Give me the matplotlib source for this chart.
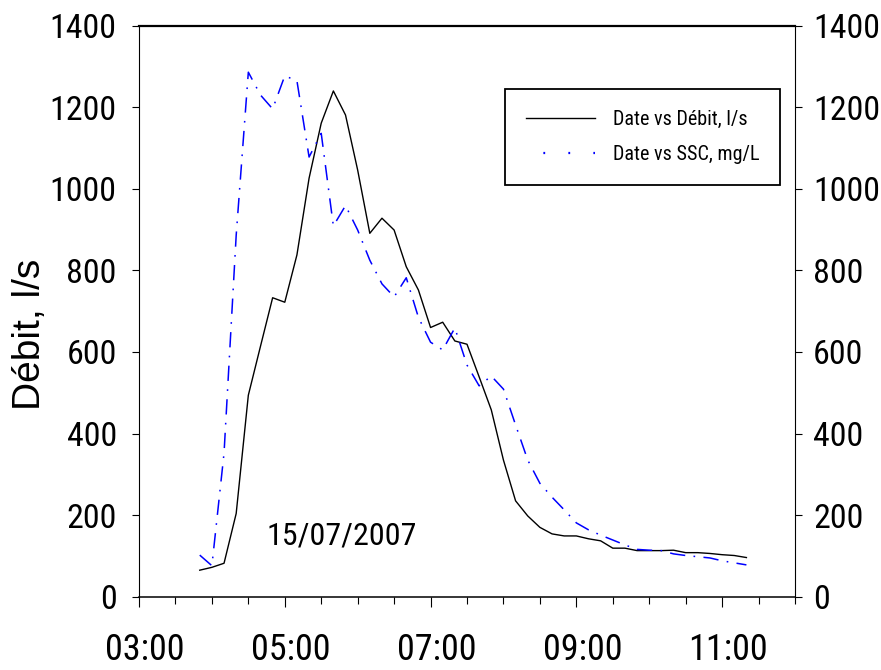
import matplotlib
matplotlib.use("Agg")
import matplotlib.pyplot as plt
from matplotlib.lines import Line2D
from matplotlib.transforms import ScaledTranslation

plt.rcParams['lines.scale_dashes'] = False
NARROW = ['Roboto Condensed', 'Archivo Narrow', 'Liberation Sans', 'DejaVu Sans']
plt.rcParams['font.family'] = NARROW

# ---------------- data ----------------
times = ["03:50", "04:00", "04:10", "04:20", "04:30", "04:40", "04:50", "05:00",
         "05:10", "05:20", "05:30", "05:40", "05:50", "06:00", "06:10", "06:20",
         "06:30", "06:40", "06:50", "07:00", "07:10", "07:20", "07:30", "07:40",
         "07:50", "08:00", "08:10", "08:20", "08:30", "08:40", "08:50", "09:00",
         "09:10", "09:20", "09:30", "09:40", "09:50", "10:00", "10:10", "10:20",
         "10:30", "10:40", "10:50", "11:00", "11:10", "11:20"]

debit = [65, 72, 82, 204, 494, 614, 733, 722,
         838, 1026, 1161, 1240, 1181, 1046, 891, 928,
         899, 809, 752, 660, 673, 627, 619, 539,
         458, 335, 235, 198, 170, 154, 149, 149,
         142, 137, 119, 119, 113, 113, 113, 114,
         108, 108, 106, 103, 101, 96]

ssc = [102, 76, 352, 886, 1286, 1230, 1196, 1277,
       1265, 1078, 1136, 909, 959, 899, 825, 767,
       735, 782, 685, 624, 605, 659, 568, 517,
       541, 509, 421, 335, 278, 244, 213, 181,
       164, 151, 139, 127, 116, 114, 113, 105,
       101, 98, 95, 88, 83, 78]

xtick_labels = ["03:00", "05:00", "07:00", "09:00", "11:00"]
ytick_values = [0, 200, 400, 600, 800, 1000, 1200, 1400]
legend_labels = ["Date vs Débit, l/s", "Date vs SSC, mg/L"]
ylabel = "Débit, l/s"
date_text = "15/07/2007"


def to_hours(s):
    h, m = s.split(":")
    return int(h) + int(m) / 60.0


x = [to_hours(t) for t in times]
xticks = [to_hours(t) for t in xtick_labels]

# ---------------- figure ----------------
W, H = 881, 670
fig = plt.figure(figsize=(W / 100, H / 100), dpi=100)
ax = fig.add_axes([139 / W, 1 - 596.7 / H, 656 / W, 571 / H])
ax2 = ax.twinx()

ax.plot(x, debit, color='black', lw=1.0, zorder=3)
ax2.plot(x, ssc, color='#0000ff', lw=1.1,
         linestyle=(0, (11, 6, 1.2, 6)))

for a in (ax, ax2):
    a.set_xlim(3, 12)
    a.set_ylim(0, 1400)
    a.set_yticks(ytick_values)

ax.set_xticks(xticks)
ax.set_xticklabels(xtick_labels)
ax.set_xticks([3 + 0.5 * i for i in range(19)], minor=True)

ax.tick_params(axis='x', which='major', direction='out', length=7.5, width=0.8,
               labelsize=26, pad=18)
ax.tick_params(axis='x', which='minor', direction='out', length=5, width=0.8)
ax.tick_params(axis='y', direction='out', length=5, width=0.8, labelsize=24.5, pad=11)
ax2.tick_params(axis='y', direction='out', length=5, width=0.8, labelsize=24.5, pad=8)

off = ScaledTranslation(6 / 100, 0, fig.dpi_scale_trans)
for lab in ax.get_xticklabels():
    lab.set_transform(lab.get_transform() + off)

ax.spines['top'].set_linewidth(1.6)
ax.spines['bottom'].set_linewidth(1.1)
ax.spines['left'].set_linewidth(0.8)
ax.spines['right'].set_visible(False)
for s in ('top', 'bottom', 'left'):
    ax2.spines[s].set_visible(False)
ax2.spines['right'].set_linewidth(0.8)

fig.text(30 / W, 1 - 334 / H, ylabel, rotation=90, ha='center', va='center',
         fontsize=28, family=['Liberation Sans', 'DejaVu Sans'])

ax.text(4.752, 127, date_text, fontsize=23, ha='left', va='baseline')

h1 = Line2D([], [], color='black', lw=1.0)
h2 = Line2D([], [], color='#0000ff', lw=1.6, linestyle=(5.5, (1.3, 16.7)))
leg = ax2.legend([h1, h2], legend_labels, loc='upper left',
                 bbox_to_anchor=(0.558, 0.889), borderaxespad=0,
                 fontsize=14.5, handlelength=3.4, handletextpad=0.9,
                 labelspacing=0.8, borderpad=1.05, fancybox=False,
                 edgecolor='black', framealpha=1)
leg.get_frame().set_linewidth(1.3)

fig.savefig("out.png", dpi=100)
